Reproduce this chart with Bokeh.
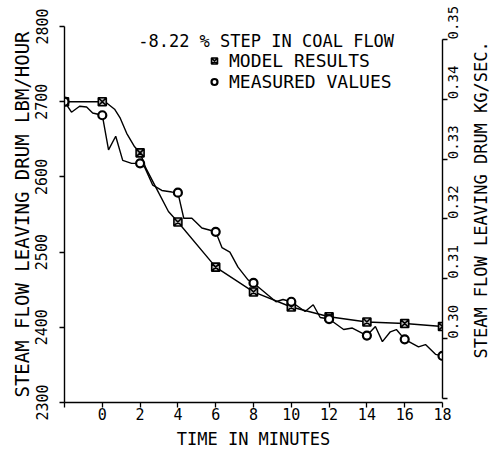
import math
from bokeh.plotting import figure
from bokeh.layouts import row
from bokeh.models import (Range1d, LinearAxis, FixedTicker, Legend, LegendItem, Label,
                          PrintfTickFormatter)
from bokeh.embed import file_html
from bokeh.resources import INLINE

# ---- data ----
marker_t = [-2, 0, 2, 4, 6, 8, 10, 12, 14, 16, 18]
model_marks = [2700, 2700, 2632, 2540, 2480, 2447, 2427, 2414, 2407, 2405, 2401]
measured_marks = [2700, 2682, 2618, 2579, 2527, 2459, 2434, 2411, 2389, 2384, 2362]

model_curve_t = [0.25, 0.65, 0.95, 1.29, 1.71, 2.3, 3.0, 3.5]
model_curve_v = [2698, 2690, 2678, 2658, 2640, 2612, 2578, 2554]

measured_curve_t = [-1.63, -1.20, -0.83, -0.51, 0.33, 0.71, 1.08, 1.55, 2.24, 2.67, 3.15, 3.68,
                    4.31, 4.74, 5.27, 6.33, 6.75, 7.18, 7.71, 9.19, 9.56, 10.73, 11.16, 11.53,
                    12.77, 13.23, 14.45, 14.82, 15.24, 15.56, 16.73, 17.10, 17.63]
measured_curve_v = [2686, 2694, 2693, 2685, 2636, 2654, 2622, 2618, 2613, 2589, 2582, 2580,
                    2545, 2545, 2532, 2506, 2500, 2480, 2463, 2434, 2437, 2421, 2430, 2413,
                    2397, 2399, 2401, 2381, 2394, 2397, 2374, 2377, 2364]

x_ticks = [-2, 0, 2, 4, 6, 8, 10, 12, 14, 16, 18]
left_ticks = [2300, 2400, 2500, 2600, 2700, 2800]
right_ticks = [0.29, 0.30, 0.31, 0.32, 0.33, 0.34, 0.35]

title_text = "-8.22 % STEP IN COAL FLOW"
model_label = "MODEL RESULTS"
measured_label = "MEASURED VALUES"
left_title = "STEAM FLOW LEAVING DRUM LBM/HOUR"
right_title = "STEAM FLOW LEAVING DRUM KG/SEC."
x_title = "TIME IN MINUTES"


def merged(t1, v1, t2, v2):
    pts = sorted(zip(list(t1) + list(t2), list(v1) + list(v2)))
    return [a for a, _ in pts], [b for _, b in pts]


model_t, model_v = merged(marker_t, model_marks, model_curve_t, model_curve_v)
meas_t, meas_v = merged(marker_t, measured_marks, measured_curve_t, measured_curve_v)

FONT = "DejaVu Sans Mono"

p = figure(width=470, height=451, output_backend="svg", toolbar_location=None,
           x_range=Range1d(-2, 18), y_range=Range1d(2300, 2800),
           min_border_left=64, min_border_right=28, min_border_top=26, min_border_bottom=48)
p.outline_line_color = None
p.grid.visible = False
p.background_fill_color = "white"
p.border_fill_color = "white"

p.extra_y_ranges = {"kg": Range1d(0.28933, 0.35217)}
raxis = LinearAxis(y_range_name="kg")
p.add_layout(raxis, "right")


def style_axis(ax):
    ax.axis_line_color = "black"
    ax.axis_line_width = 1.4
    ax.major_tick_line_color = "black"
    ax.major_tick_line_width = 1.3
    ax.minor_tick_line_color = None
    ax.major_tick_in = 0
    ax.major_tick_out = 5
    ax.major_label_text_font = FONT
    ax.major_label_text_color = "black"
    ax.axis_label_text_font = FONT
    ax.axis_label_text_font_style = "normal"
    ax.axis_label_text_color = "black"


xa = p.xaxis[0]
style_axis(xa)
xa.ticker = FixedTicker(ticks=x_ticks)
xa.major_label_overrides = {-2: ""}
xa.bounds = (-2, 18)
xa.major_label_text_font_size = "15px"
xa.major_label_standoff = 0
xa.axis_label = x_title
xa.axis_label_text_font_size = "17px"
xa.axis_label_standoff = 6

ya = p.yaxis[0]
style_axis(ya)
ya.ticker = FixedTicker(ticks=left_ticks)
ya.bounds = (2300, 2800)
ya.major_label_orientation = "vertical"
ya.major_label_text_font_size = "15px"
ya.major_label_standoff = 12
ya.axis_label = left_title
ya.axis_label_text_font_size = "19px"
ya.axis_label_standoff = 0

style_axis(raxis)
raxis.ticker = FixedTicker(ticks=right_ticks)
raxis.formatter = PrintfTickFormatter(format="%.2f")
raxis.major_label_overrides = {0.29: ""}
raxis.bounds = (0.29, 0.35)
raxis.major_label_orientation = math.pi / 2
raxis.major_label_text_font_size = "14px"
raxis.major_label_standoff = 6

# lines
p.line(model_t, model_v, line_color="black", line_width=1.4)
p.line(meas_t, meas_v, line_color="black", line_width=1.4)

r_model = p.scatter(marker_t, model_marks, marker="square_x", size=8,
                    line_color="black", line_width=1.6, fill_color="#bbbbbb")
r_meas = p.scatter(marker_t, measured_marks, marker="circle", size=8,
                   line_color="black", line_width=2.2, fill_color="white")

legend = Legend(items=[LegendItem(label=model_label, renderers=[r_model]),
                       LegendItem(label=measured_label, renderers=[r_meas])],
                location=(140, 310), orientation="vertical")
legend.border_line_color = None
legend.background_fill_alpha = 0
legend.padding = 0
legend.margin = 0
legend.spacing = -9
legend.glyph_width = 20
legend.glyph_height = 15
legend.label_height = 15
legend.label_standoff = 5
legend.label_text_font = FONT
legend.label_text_font_size = "18px"
legend.label_text_color = "black"
p.add_layout(legend)

title = Label(x=1.9, y=2781, text=title_text, text_font=FONT, text_font_size="17px",
              text_color="black", text_baseline="middle")
p.add_layout(title)

# narrow strip on the right carrying the right-hand axis title (bottom-to-top)
p2 = figure(width=20, height=451, output_backend="svg", toolbar_location=None,
            x_range=Range1d(0, 20), y_range=Range1d(0, 451),
            x_axis_location=None, y_axis_location=None, min_border=0)
p2.outline_line_color = None
p2.grid.visible = False
p2.background_fill_color = "white"
p2.border_fill_color = "white"
p2.add_layout(Label(x=10, y=243, text=right_title, angle=math.pi / 2,
                    text_font=FONT, text_font_size="17px", text_color="black",
                    text_align="center", text_baseline="middle"))

layout = row(p, p2, spacing=0)
open("out.html", "w").write(file_html(layout, INLINE))
